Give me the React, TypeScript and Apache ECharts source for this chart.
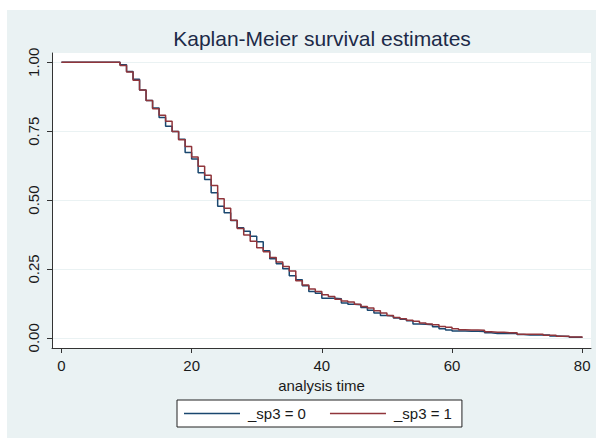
import React, { useEffect, useRef } from "react";
import * as echarts from "echarts";

const TITLE = "Kaplan-Meier survival estimates";
const X_NAME = "analysis time";
const SERIES_NAMES = ["_sp3 = 0", "_sp3 = 1"];
const X_TICKS = [0, 20, 40, 60, 80];
const Y_TICKS = [0, 0.25, 0.5, 0.75, 1];

// analysis time 0..80 (integer steps)
const TIMES = Array.from({ length: 81 }, (_, i) => i);

// Survival estimate after each time point, group _sp3 = 0
const SURV0 = [
  1, 1, 1, 1, 1, 1, 1, 1, 1, 0.991,
  0.967, 0.939, 0.9, 0.862, 0.834, 0.8, 0.768, 0.749, 0.721, 0.673,
  0.649, 0.599, 0.575, 0.527, 0.478, 0.454, 0.426, 0.4, 0.387, 0.369,
  0.349, 0.316, 0.287, 0.269, 0.251, 0.225, 0.211, 0.189, 0.168, 0.162,
  0.144, 0.144, 0.142, 0.126, 0.122, 0.12, 0.11, 0.1, 0.09, 0.081,
  0.079, 0.072, 0.067, 0.062, 0.05, 0.049, 0.047, 0.04, 0.033, 0.028,
  0.025, 0.025, 0.024, 0.024, 0.023, 0.018, 0.016, 0.016, 0.016, 0.016,
  0.012, 0.01, 0.01, 0.01, 0.01, 0.007, 0.006, 0.005, 0.002, 0.002,
  0,
];

// Survival estimate after each time point, group _sp3 = 1
const SURV1 = [
  1, 1, 1, 1, 1, 1, 1, 1, 1, 0.989,
  0.965, 0.935, 0.9, 0.862, 0.832, 0.808, 0.786, 0.749, 0.719, 0.695,
  0.656, 0.623, 0.59, 0.553, 0.505, 0.47, 0.427, 0.397, 0.373, 0.351,
  0.327, 0.312, 0.292, 0.275, 0.259, 0.243, 0.207, 0.192, 0.177, 0.168,
  0.156, 0.15, 0.14, 0.134, 0.13, 0.122, 0.114, 0.108, 0.098, 0.09,
  0.081, 0.074, 0.069, 0.064, 0.06, 0.054, 0.05, 0.047, 0.041, 0.038,
  0.033, 0.029, 0.028, 0.028, 0.027, 0.022, 0.02, 0.02, 0.018, 0.018,
  0.013, 0.013, 0.013, 0.013, 0.009, 0.009, 0.006, 0.006, 0.003, 0.003,
  0,
];

const COLORS = ["#1a476f", "#90353b"];
const BG = "#eaf2f3";
const FONT = "'Liberation Sans', Arial, sans-serif";

export default function App() {
  const ref = useRef<HTMLDivElement>(null);

  useEffect(() => {
    if (!ref.current) return;
    const chart = echarts.init(ref.current, undefined, { renderer: "svg" });
    const tickLabelStyle = { fontFamily: FONT, fontSize: 15, color: "#1a1a1a" };
    chart.setOption({
      animation: false,
      backgroundColor: BG,
      textStyle: { fontFamily: FONT },
      graphic: [
        { type: "rect", shape: { x: 0, y: 0, width: 596, height: 10 }, style: { fill: "#fff" }, silent: true },
        { type: "rect", shape: { x: 0, y: 0, width: 7, height: 438 }, style: { fill: "#fff" }, silent: true },
        {
          type: "text",
          x: 322,
          y: 38,
          style: {
            text: TITLE,
            fontFamily: FONT,
            fontSize: 21,
            fill: "#1c2a48",
            align: "center",
            verticalAlign: "middle",
          },
        },
      ],
      grid: {
        left: 52,
        top: 53,
        width: 539,
        height: 295,
        show: true,
        backgroundColor: "#fff",
        borderWidth: 0,
        containLabel: false,
      },
      legend: {
        left: 177,
        top: 400,
        padding: [6, 10, 6, 7],
        itemGap: 24,
        itemWidth: 56,
        itemHeight: 1.5,
        icon: "rect",
        borderColor: "#222",
        borderWidth: 1,
        borderRadius: 0,
        backgroundColor: "#fff",
        data: SERIES_NAMES,
        textStyle: { fontFamily: FONT, fontSize: 15, color: "#1a1a1a", padding: [0, 0, 0, 3] },
      },
      xAxis: {
        type: "value",
        min: -1.45,
        max: 81.35,
        name: X_NAME,
        nameLocation: "middle",
        nameGap: 19,
        nameTextStyle: { fontFamily: FONT, fontSize: 15, color: "#1a1a1a" },
        axisLine: { show: true, onZero: false, lineStyle: { color: "#333", width: 1 } },
        axisTick: { show: true, length: 5, customValues: X_TICKS, lineStyle: { color: "#333" } },
        axisLabel: { show: true, margin: 10, customValues: X_TICKS, ...tickLabelStyle },
        splitLine: { show: false },
      },
      yAxis: {
        type: "value",
        min: -0.037,
        max: 1.034,
        axisLine: { show: true, onZero: false, lineStyle: { color: "#333", width: 1 } },
        axisTick: { show: true, length: 5, customValues: Y_TICKS, lineStyle: { color: "#333" } },
        axisLabel: {
          show: true,
          rotate: 90,
          margin: 11,
          customValues: Y_TICKS,
          formatter: (v: number) => v.toFixed(2),
          ...tickLabelStyle,
        },
        splitLine: { show: true, lineStyle: { color: BG, width: 1 } },
      },
      series: [
        {
          name: SERIES_NAMES[0],
          type: "line",
          step: "end",
          symbol: "none",
          data: TIMES.map((t, i) => [t, SURV0[i]]),
          lineStyle: { color: COLORS[0], width: 1.5 },
          itemStyle: { color: COLORS[0] },
          z: 2,
        },
        {
          name: SERIES_NAMES[1],
          type: "line",
          step: "end",
          symbol: "none",
          data: TIMES.map((t, i) => [t, SURV1[i]]),
          lineStyle: { color: COLORS[1], width: 1.5 },
          itemStyle: { color: COLORS[1] },
          z: 3,
        },
      ],
    });
    return () => chart.dispose();
  }, []);

  return (
    <div
      ref={ref}
      style={{ position: "absolute", left: 0, top: 0, width: 596, height: 438 }}
    />
  );
}
